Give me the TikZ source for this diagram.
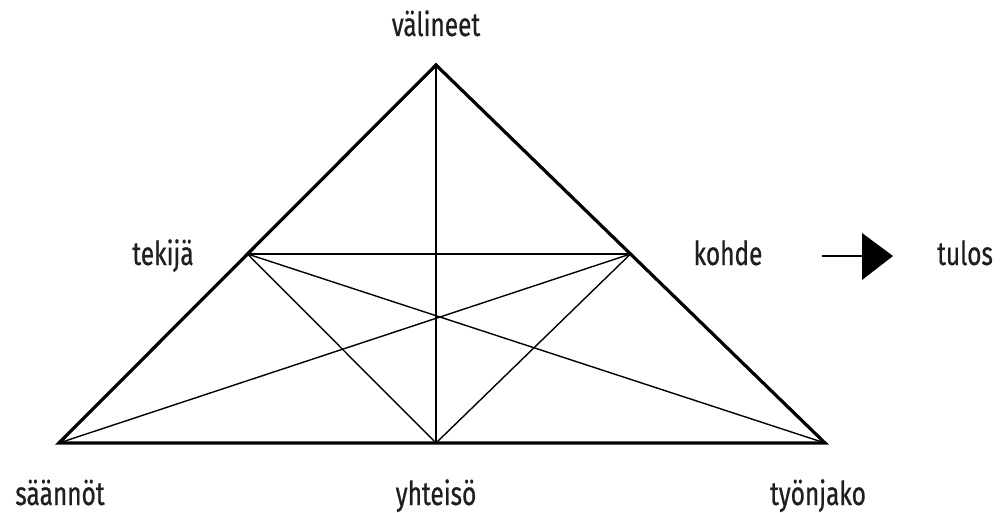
\documentclass[tikz,border=0pt]{standalone}
\usepackage{fontspec}
\setmainfont[FakeStretch=0.74,FakeBold=0.6]{Fira Sans}
\begin{document}
\begin{tikzpicture}[x=1pt,y=-1pt,
  thick line/.style={line width=3.2pt,line join=miter},
  thin line/.style={line width=1.4pt},
  lbl/.style={anchor=base,inner sep=0pt,font=\fontsize{33}{33}\selectfont,text=black!88}]
\useasboundingbox (0,0) rectangle (1000,513);
\coordinate (A) at (436,65);
\coordinate (L) at (59,443);
\coordinate (R) at (825,443);
\coordinate (ML) at (247.5,254);
\coordinate (MR) at (630.5,254);
\coordinate (MB) at (436,443);
\draw[thin line] (A) -- (MB);
\draw[thin line] (ML) -- (MR);
\draw[thin line] (ML) -- (R);
\draw[thin line] (MR) -- (L);
\draw[thin line] (ML) -- (MB);
\draw[thin line] (MR) -- (MB);
\draw[thick line] (A) -- (L) -- (R) -- cycle;
\node[lbl] (v) at (436,36) {välineet};
\node[lbl] (t) at (163,265) {tekijä};
\node[lbl] (k) at (728,265) {kohde};
\node[lbl] (tu) at (965,265) {tulos};
\node[lbl] (s) at (60,505) {säännöt};
\node[lbl] (y) at (436,505) {yhteisö};
\node[lbl] (ty) at (818,505) {työnjako};
\coordinate (a1) at (822,256);
\coordinate (a2) at (864,256);
\draw[line width=2.5pt] (a1) -- (a2);
\fill (862,233) -- (893,256) -- (862,280) -- cycle;
\end{tikzpicture}
\end{document}
